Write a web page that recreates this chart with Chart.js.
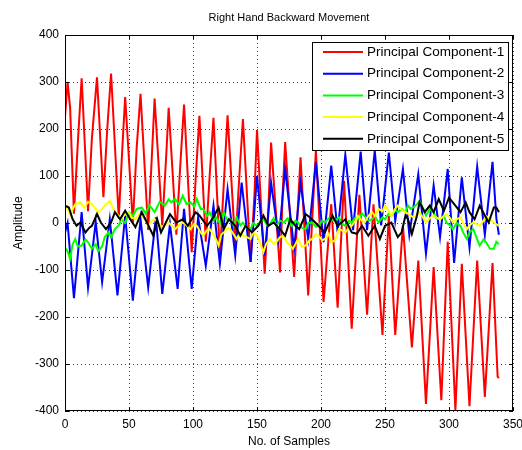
<!DOCTYPE html>
<html>
<head>
<meta charset="utf-8">
<script src="https://cdn.jsdelivr.net/npm/chart.js@4.4.1/dist/chart.umd.min.js"></script>
<style>
  html, body { margin: 0; padding: 0; background: #fff; }
  canvas { display: block; }
</style>
</head>
<body>
<canvas id="chart" width="522" height="450"></canvas>
<script>
// chart text
const titleText = 'Right Hand Backward Movement';
const xTitle = 'No. of Samples';
const yTitle = 'Amplitude';
const seriesNames = ['Principal Component-1', 'Principal Component-2', 'Principal Component-3', 'Principal Component-4', 'Principal Component-5'];
const seriesColors = ['#ff0000', '#0000ff', '#00ff00', '#ffff00', '#000000'];

// tick labels
const xTickValues = [0, 50, 100, 150, 200, 250, 300, 350];
const yTickValues = [-400, -300, -200, -100, 0, 100, 200, 300, 400];

// values (sample index, amplitude)
const pc1Samples = [0, 2, 4, 7, 10, 13, 18, 21, 25, 30, 33, 36, 42, 45, 47, 53, 56, 59, 65, 68, 70, 76, 79, 81, 87, 90, 93, 99, 102, 105, 110, 113, 116, 121, 124, 127, 133, 136, 139, 145, 148, 150, 156, 159, 161, 168, 170, 172, 179, 184, 190, 196, 202, 208, 213, 218, 224, 230, 236, 241, 248, 253, 258, 264, 271, 276, 282, 288, 294, 299, 305, 310, 316, 322, 328, 334, 338, 339];
const pc1Values = [225, 300, 245, 20, 170, 308, 25, 180, 310, 55, 200, 318, 10, 170, 268, 0, 160, 275, -15, 150, 265, -5, 140, 245, -25, 120, 252, -62, 90, 228, -40, 100, 224, -69, 80, 229, -48, 90, 221, -83, 60, 198, -108, 40, 171, -105, 60, 172, -115, 140, -154, 155, -168, 40, -180, 90, -225, 60, -195, 40, -238, 15, -238, -5, -265, -80, -385, -94, -377, -40, -398, -87, -390, -80, -370, -85, -327, -330];

const pc2Samples = [0, 2, 7, 13, 18, 24, 29, 35, 41, 47, 53, 59, 65, 71, 76, 82, 88, 93, 99, 104, 110, 116, 121, 127, 133, 138, 145, 150, 156, 161, 167, 172, 179, 184, 190, 196, 202, 208, 213, 219, 225, 231, 236, 242, 247, 253, 258, 264, 269, 276, 282, 288, 293, 299, 304, 310, 316, 322, 328, 334, 337, 339];
const pc2Values = [-20, 0, -160, 23, -138, 2, -126, 8, -154, 16, -165, 8, -137, 12, -151, -2, -140, 30, -140, 12, -91, 37, -87, 72, -69, 86, -83, 100, -69, 86, -34, 115, -55, 86, -34, 129, -41, 122, -20, 145, -15, 152, -15, 154, -5, 150, 5, 115, -25, 104, -65, 80, -30, 115, -85, 97, -52, 120, -25, 130, 10, -25];

const pc3Samples = [0, 2, 4, 6, 8, 10, 13, 16, 18, 21, 24, 26, 29, 31, 34, 36, 39, 42, 44, 47, 50, 53, 56, 60, 63, 66, 70, 74, 78, 81, 83, 86, 89, 92, 95, 98, 101, 103, 106, 108, 111, 113, 116, 118, 121, 124, 127, 129, 132, 134, 137, 139, 142, 145, 147, 150, 153, 155, 158, 160, 163, 165, 168, 171, 174, 177, 180, 182, 185, 188, 190, 193, 196, 198, 201, 203, 206, 208, 211, 214, 216, 219, 222, 224, 227, 229, 232, 234, 237, 240, 242, 245, 248, 250, 253, 255, 258, 260, 263, 266, 268, 270, 272, 275, 277, 280, 282, 285, 288, 290, 293, 296, 298, 301, 303, 306, 309, 311, 314, 316, 319, 322, 324, 327, 329, 332, 335, 337, 339];
const pc3Values = [-52, -60, -76, -45, -34, -50, -48, -35, -41, -55, -45, -60, -50, -30, -20, -30, -13, -5, 8, 0, 23, 15, 30, 33, 20, 38, 23, 45, 37, 50, 44, 51, 40, 58, 40, 44, 35, 51, 30, 30, 15, 23, 5, 12, 0, 23, 5, 8, -5, 12, -5, 1, -10, -13, 0, -6, 5, 8, -5, -2, 10, -6, 5, 1, 10, -6, 5, 1, -10, -13, 0, 1, -8, -6, 5, 1, 10, 8, 5, 12, 0, -6, 5, 1, 12, 8, 20, 15, 5, 8, 15, 1, 12, 8, 20, 15, 28, 23, 30, 23, 37, 30, 33, 40, 47, 30, 16, 30, 23, 10, 8, 15, 1, -5, -13, 0, -6, -20, -34, -20, -13, -35, -48, -35, -41, -55, -55, -40, -45];

const pc4Samples = [0, 2, 4, 6, 8, 12, 15, 18, 21, 24, 26, 29, 31, 35, 37, 39, 42, 44, 47, 50, 52, 55, 58, 60, 63, 65, 68, 70, 73, 76, 78, 81, 84, 86, 89, 92, 95, 98, 101, 103, 106, 108, 111, 113, 116, 118, 120, 122, 124, 127, 129, 132, 134, 137, 139, 142, 145, 147, 150, 152, 155, 157, 160, 163, 165, 168, 171, 173, 176, 178, 180, 182, 185, 188, 191, 193, 196, 198, 201, 203, 206, 208, 211, 214, 216, 219, 222, 224, 227, 229, 232, 234, 237, 240, 242, 245, 248, 250, 253, 255, 258, 260, 263, 266, 268, 272, 275, 277, 280, 282, 285, 288, 290, 293, 296, 298, 301, 303, 306, 309, 311, 314, 316, 319, 322, 324, 327, 329, 332, 335, 337, 339];
const pc4Values = [30, 35, 16, 30, 40, 44, 33, 45, 40, 30, 23, 30, 37, 47, 35, 23, 15, 8, 20, 23, 12, 8, 20, 16, 5, -6, 5, 8, 0, -13, -5, 1, -8, -13, -5, 1, -5, -13, -2, -6, -20, -27, -15, -13, -25, -35, -48, -25, -20, -10, -13, -25, -34, -20, -27, -30, -34, -20, -27, -40, -62, -45, -34, -45, -41, -30, -27, -40, -48, -55, -45, -34, -51, -48, -37, -34, -23, -27, -37, -34, -23, -41, -37, -13, -15, -20, -10, -6, 5, 15, 5, 1, 15, 23, 15, 30, 25, 37, 25, 15, 30, 37, 28, 23, 20, 12, 18, 23, 10, 1, 10, 16, 12, 8, 15, 19, 10, 1, 8, 12, 0, -13, -5, 1, -3, -6, 5, 15, 8, 1, -3, -6];

const pc5Samples = [0, 3, 6, 9, 12, 16, 19, 21, 25, 28, 32, 36, 39, 43, 47, 51, 55, 60, 64, 69, 72, 75, 82, 87, 92, 96, 102, 105, 111, 115, 120, 124, 128, 133, 137, 141, 146, 151, 155, 159, 163, 168, 172, 176, 180, 183, 188, 193, 198, 203, 209, 213, 219, 224, 228, 232, 237, 242, 246, 250, 255, 260, 263, 266, 268, 271, 275, 277, 281, 285, 288, 292, 296, 300, 305, 309, 313, 316, 320, 324, 328, 331, 335, 337, 339];
const pc5Values = [37, 33, 8, -6, 1, -20, -10, -6, 19, 1, -13, 1, 23, 8, 26, 8, -9, 23, 1, -27, 8, -20, 19, 1, 8, -6, 23, 16, -6, 8, 33, -13, 8, -6, -27, -6, -20, -6, 16, -6, 1, -13, -27, 8, -6, -13, 19, 8, -6, -20, 16, -6, 8, -20, -23, -6, -27, -6, -34, -6, 1, -30, -20, 16, 8, -23, 16, 44, 23, 37, 23, 51, 26, 54, 37, 23, 44, 23, 8, 37, 16, 1, 33, 33, 23];

const sampleSets = [pc1Samples, pc2Samples, pc3Samples, pc4Samples, pc5Samples];
const valueSets = [pc1Values, pc2Values, pc3Values, pc4Values, pc5Values];

const fontFamily = '"Liberation Sans", Arial, Helvetica, sans-serif';
Chart.defaults.font.family = fontFamily;
Chart.defaults.color = '#000';

// MATLAB-like frame with inward ticks + title on top of the axes
const framePlugin = {
  id: 'frame',
  afterDatasetsDraw(chart) {
    const {ctx, chartArea: a, scales} = chart;
    ctx.save();
    ctx.strokeStyle = '#000';
    ctx.lineWidth = 1;
    ctx.beginPath();
    xTickValues.forEach(v => {
      const px = Math.round(scales.x.getPixelForValue(v)) + 0.5;
      ctx.moveTo(px, a.bottom); ctx.lineTo(px, a.bottom - 4);
      ctx.moveTo(px, a.top); ctx.lineTo(px, a.top + 4);
    });
    yTickValues.forEach(v => {
      const py = Math.round(scales.y.getPixelForValue(v)) + 0.5;
      ctx.moveTo(a.left, py); ctx.lineTo(a.left + 4, py);
      ctx.moveTo(a.right, py); ctx.lineTo(a.right - 4, py);
    });
    ctx.stroke();
    ctx.strokeRect(Math.round(a.left) + 0.5, Math.round(a.top) + 0.5, Math.round(a.right - a.left) - 1, Math.round(a.bottom - a.top) - 1);
    ctx.font = '11px ' + fontFamily;
    ctx.fillStyle = '#000';
    ctx.textAlign = 'center';
    ctx.textBaseline = 'middle';
    ctx.fillText(titleText, (a.left + a.right) / 2, 18);
    ctx.restore();
  }
};

// legend box inside the top right corner
const insideLegend = {
  id: 'insideLegend',
  afterDraw(chart) {
    const {ctx, chartArea: a} = chart;
    const w = 196, h = 108;
    const left = a.right - 5 - w, top = a.top + 7;
    ctx.save();
    ctx.fillStyle = '#fff';
    ctx.fillRect(left, top, w, h);
    ctx.strokeStyle = '#000';
    ctx.lineWidth = 1;
    ctx.strokeRect(Math.round(left) + 0.5, Math.round(top) + 0.5, w, h);
    ctx.font = '13.5px ' + fontFamily;
    ctx.textAlign = 'left';
    ctx.textBaseline = 'middle';
    chart.data.datasets.forEach((ds, i) => {
      const y = top + 10 + i * 21.7;
      ctx.strokeStyle = ds.borderColor;
      ctx.lineWidth = 2;
      ctx.beginPath();
      ctx.moveTo(left + 11, y);
      ctx.lineTo(left + 51, y);
      ctx.stroke();
      ctx.fillStyle = '#000';
      ctx.fillText(ds.label, left + 55, y);
    });
    ctx.restore();
  }
};

const datasets = seriesNames.map((name, i) => ({
  label: name,
  data: sampleSets[i].map((s, j) => ({x: s, y: valueSets[i][j]})),
  borderColor: seriesColors[i],
  backgroundColor: seriesColors[i],
  borderWidth: 2,
  pointRadius: 0,
  tension: 0,
  order: 5 - i
}));

new Chart(document.getElementById('chart'), {
  type: 'line',
  data: {datasets},
  options: {
    responsive: false,
    animation: false,
    events: [],
    layout: {padding: {top: 35, right: 9, left: 0, bottom: 0}},
    plugins: {legend: {display: false}, title: {display: false}, tooltip: {enabled: false}},
    scales: {
      x: {
        type: 'linear',
        min: 0, max: 350,
        afterBuildTicks: s => { s.ticks = xTickValues.map(v => ({value: v})); },
        afterFit: s => { s.height = 39; s.paddingLeft = 0; s.paddingRight = 0; },
        ticks: {padding: 6, font: {size: 12}, maxRotation: 0, autoSkip: false},
        grid: {color: 'rgba(0,0,0,0.75)', lineWidth: 1, drawTicks: false},
        border: {display: false, dash: [1, 3]},
        title: {display: true, text: xTitle, font: {size: 12}, padding: {top: 0, bottom: 1}}
      },
      y: {
        type: 'linear',
        min: -400, max: 400,
        afterBuildTicks: s => { s.ticks = yTickValues.map(v => ({value: v})); },
        afterFit: s => { s.width = 65; s.paddingTop = 0; s.paddingBottom = 0; },
        ticks: {padding: 6, font: {size: 12}, autoSkip: false},
        grid: {color: 'rgba(0,0,0,0.75)', lineWidth: 1, drawTicks: false},
        border: {display: false, dash: [1, 3]},
        title: {display: true, text: yTitle, font: {size: 12}, padding: {top: 11, bottom: 0}}
      }
    }
  },
  plugins: [framePlugin, insideLegend]
});
</script>
</body>
</html>
